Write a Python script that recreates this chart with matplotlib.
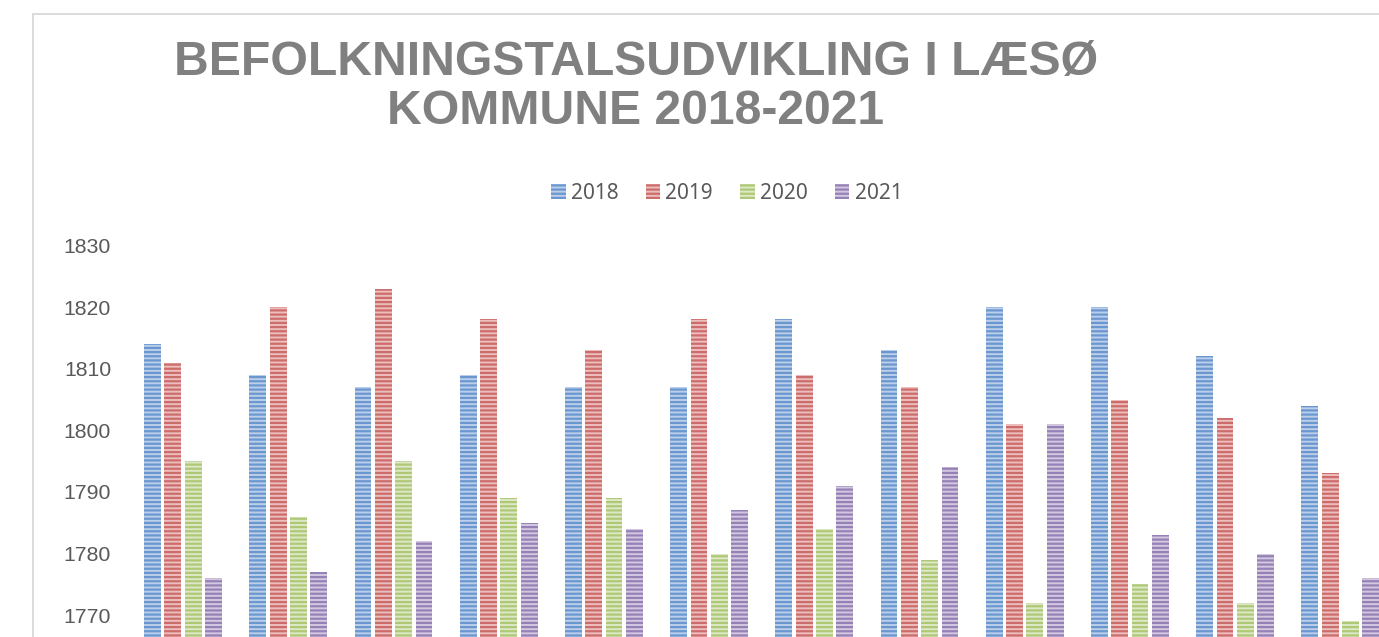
import numpy as np
import matplotlib
matplotlib.use("Agg")
from matplotlib import pyplot as plt
from matplotlib.patches import Rectangle

# data (population per month)
months = ["jan", "feb", "mar", "apr", "maj", "jun",
          "jul", "aug", "sep", "okt", "nov", "dec"]
years = ["2018", "2019", "2020", "2021"]
pop_2018 = [1814, 1809, 1807, 1809, 1807, 1807, 1818, 1813, 1820, 1820, 1812, 1804]
pop_2019 = [1811, 1820, 1823, 1818, 1813, 1818, 1809, 1807, 1801, 1805, 1802, 1793]
pop_2020 = [1795, 1786, 1795, 1789, 1789, 1780, 1784, 1779, 1772, 1775, 1772, 1769]
pop_2021 = [1776, 1777, 1782, 1785, 1784, 1787, 1791, 1794, 1801, 1783, 1780, 1776]
yticks = [1770, 1780, 1790, 1800, 1810, 1820, 1830]

series = [pop_2018, pop_2019, pop_2020, pop_2021]
stripe = ["#6a97cf", "#cd6d6b", "#afc876", "#9681b7"]
light = ["#bccfea", "#ecbfbe", "#dde8c8", "#d2c8e0"]

plt.rcParams["hatch.linewidth"] = 1.6
plt.rcParams["font.family"] = ["Liberation Sans", "DejaVu Sans"]

fig = plt.figure(figsize=(13.79, 6.37), dpi=100)

# axes runs off the bottom/right of the canvas like the cropped original
ax = fig.add_axes([0.0946, -0.0623, 0.9155, 0.6768])

x = np.arange(len(months))
step = 0.193
width = 0.16
bars = []
for k, vals in enumerate(series):
    b = ax.bar(x + (k - 1.5) * step, np.array(vals) - 1760, bottom=1760,
               width=width, color=light[k], edgecolor=stripe[k],
               linewidth=0, hatch="----", label=years[k])
    bars.append(b)

ax.set_xlim(-0.5, len(months) - 0.5)
ax.set_ylim(1760, 1830)
ax.set_yticks(yticks)
ax.set_yticklabels([str(t) for t in yticks], fontsize=15.3, color="#595959")
# month labels sit below the cropped edge in the original, so none shown
ax.set_xticks(x)
ax.set_xticklabels([])
ax.tick_params(axis="both", length=0)
ax.tick_params(axis="y", pad=14)
for s in ax.spines.values():
    s.set_visible(False)

# title
fig.text(0.461, 0.864, "BEFOLKNINGSTALSUDVIKLING I LÆSØ\nKOMMUNE 2018-2021",
         ha="center", va="center", fontsize=34.7, fontweight="bold",
         color="#808080", linespacing=1.12)

leg = fig.legend(handles=bars, labels=years, loc="center", ncol=4,
                 bbox_to_anchor=(0.527, 0.697), frameon=False,
                 prop={"family": ["Noto Sans", "DejaVu Sans"], "size": 15.0},
                 handlelength=0.7, handleheight=0.7, handletextpad=0.25,
                 columnspacing=1.3)
for t in leg.get_texts():
    t.set_color("#595959")

# chart area border
fig.add_artist(Rectangle((0.0239, -0.1), 1.2, 1.078, transform=fig.transFigure,
                         fill=False, edgecolor="#d9d9d9", linewidth=1.3))

fig.savefig("out.png", dpi=100)
